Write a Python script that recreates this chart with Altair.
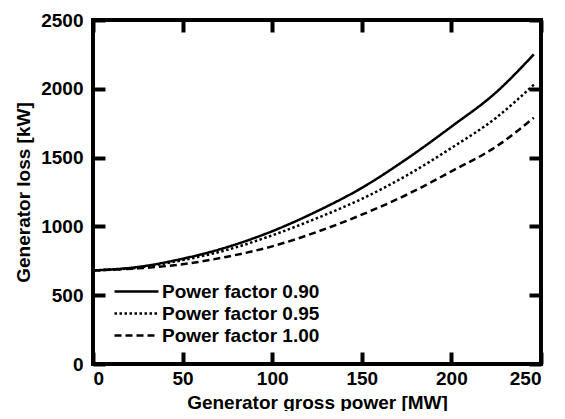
import altair as alt
import pandas as pd

power_mw = [0, 25, 50, 75, 100, 125, 150, 175, 200, 225, 246]
loss_pf090 = [680, 705, 765, 850, 965, 1110, 1280, 1490, 1725, 1975, 2250]
loss_pf095 = [680, 700, 755, 830, 935, 1060, 1200, 1370, 1570, 1790, 2030]
loss_pf100 = [680, 695, 725, 780, 855, 960, 1085, 1230, 1400, 1580, 1790]
series_names = ["Power factor 0.90", "Power factor 0.95", "Power factor 1.00"]
x_ticks = [0, 50, 100, 150, 200, 250]
y_ticks = [0, 500, 1000, 1500, 2000, 2500]

rows = []
for name, vals in zip(series_names, [loss_pf090, loss_pf095, loss_pf100]):
    for p, v in zip(power_mw, vals):
        rows.append({"power": p, "loss": v, "series": name})
df = pd.DataFrame(rows)

W, H = 448, 344
FONT = "Liberation Sans"
TL = 12

xscale = alt.Scale(domain=[0, 250], nice=False)
yscale = alt.Scale(domain=[0, 2500], nice=False)

tick_kw = dict(ticks=True, tickSize=TL, offset=-TL, tickWidth=4, tickColor="#000000",
               tickOpacity=1, domain=False, grid=False)

lines = alt.Chart(df).mark_line(color="black", strokeWidth=2.5, interpolate="monotone").encode(
    x=alt.X("power:Q", scale=xscale, title="Generator gross power [MW]",
            axis=alt.Axis(values=x_ticks, labelPadding=5, titlePadding=5, format="d",
                          orient="bottom", **tick_kw)),
    y=alt.Y("loss:Q", scale=yscale, title="Generator loss [kW]",
            axis=alt.Axis(values=y_ticks, labelPadding=10, titlePadding=7, format="d",
                          orient="left", **tick_kw)),
    strokeDash=alt.StrokeDash("series:N",
        scale=alt.Scale(domain=series_names, range=[[1, 0], [2.5, 2.5], [7, 4]]),
        legend=alt.Legend(title=None, orient="none", legendX=32, legendY=260,
                          symbolType="M-2.2,0H2.2", symbolSize=400, symbolStrokeWidth=2.5,
                          symbolStrokeColor="black", symbolFillColor="transparent",
                          labelOffset=14, rowPadding=-5, padding=0)),
)

frame_df = pd.DataFrame({"xv": x_ticks, "yv": y_ticks})
frame = alt.Chart(frame_df).mark_point(opacity=0).encode(
    x=alt.X("xv:Q", scale=xscale, title=None,
            axis=alt.Axis(values=x_ticks, labels=False, orient="top", **tick_kw)),
    y=alt.Y("yv:Q", scale=yscale, title=None,
            axis=alt.Axis(values=y_ticks, labels=False, orient="right", **tick_kw)),
)

chart = alt.layer(lines, frame).resolve_axis(x="independent", y="independent").properties(
    width=W, height=H,
    autosize=alt.AutoSizeParams(type="none"),
    padding={"left": 85, "top": 12, "right": 16, "bottom": 47},
).configure_view(stroke="black", strokeWidth=4).configure_axis(
    labelFont=FONT, labelFontSize=19, labelFontWeight="bold", labelColor="black",
    titleFont=FONT, titleFontSize=19, titleFontWeight="bold", titleColor="black",
).configure_legend(
    labelFont=FONT, labelFontSize=19, labelFontWeight="bold", labelColor="black",
)

chart.save("out.html", embed_options={"renderer": "svg", "actions": False})
